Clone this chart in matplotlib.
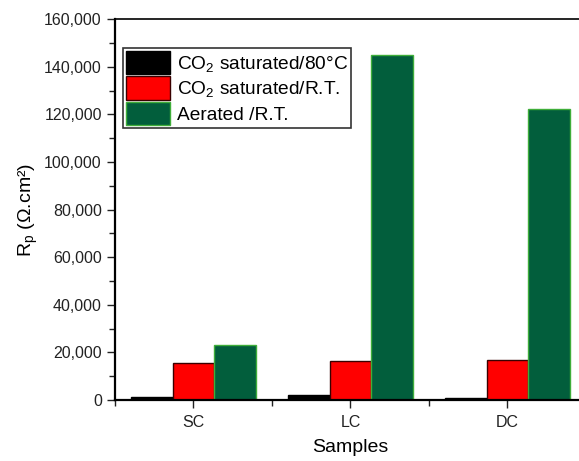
import matplotlib
matplotlib.use('Agg')
import numpy as np
import matplotlib.pyplot as plt
from matplotlib.ticker import FuncFormatter, MultipleLocator, FixedLocator

plt.rcParams['font.family'] = ['Liberation Sans', 'DejaVu Sans']
plt.rcParams['mathtext.default'] = 'regular'

# polarization resistance per sample and test condition
samples = ['SC', 'LC', 'DC']
co2_80c = [1300, 2000, 850]
co2_rt = [15700, 16600, 16700]
aerated_rt = [23200, 145000, 122400]

series = [
    (co2_80c, 'CO$_2$ saturated/80°C', '#000000', '#000000'),
    (co2_rt, 'CO$_2$ saturated/R.T.', '#ff0000', '#3a0000'),
    (aerated_rt, 'Aerated /R.T.', '#025e3c', '#3fae3a'),
]

fig = plt.figure(figsize=(5.79, 4.61), dpi=100)
# axes runs slightly past the right edge of the figure
ax = fig.add_axes([115/579, 61/461, 471/579, 380.7/461])

x = np.arange(len(samples))
w = 0.8 / 3
for i, (vals, lab, fc, ec) in enumerate(series):
    ax.bar(x + (i - 1) * w, vals, width=w, color=fc, edgecolor=ec,
           linewidth=1, label=lab)

ax.set_xlim(-0.5, 2.5)
ax.set_ylim(0, 160000)
ax.set_xticks(x)
ax.set_xticklabels(samples)
ax.xaxis.set_minor_locator(FixedLocator([-0.5, 0.5, 1.5]))
ax.yaxis.set_major_locator(MultipleLocator(20000))
ax.yaxis.set_minor_locator(MultipleLocator(10000))
ax.yaxis.set_major_formatter(FuncFormatter(lambda v, p: f'{int(v):,}'))

ax.tick_params(axis='both', which='major', direction='out', length=6,
               width=1, labelsize=11.5, colors='#222222')
ax.tick_params(axis='both', which='minor', direction='out', length=4, width=1,
               colors='#222222')
ax.tick_params(axis='x', pad=5)

for s in ['left', 'bottom']:
    ax.spines[s].set_linewidth(1.6)
ax.spines['top'].set_linewidth(1.2)
ax.spines['right'].set_visible(False)

ax.set_xlabel('Samples', fontsize=14, labelpad=6)
ax.set_ylabel('R$_p$ (Ω.cm²)', fontsize=14, labelpad=3)

leg = ax.legend(loc='upper left', bbox_to_anchor=(0.017, 0.925), fontsize=13.8,
                frameon=True, fancybox=False, edgecolor='black',
                handlelength=2.3, handleheight=1.5, handletextpad=0.35,
                labelspacing=0.12, borderpad=0.15, borderaxespad=0)
leg.get_frame().set_linewidth(1.2)

fig.savefig('out.png', dpi=100)
